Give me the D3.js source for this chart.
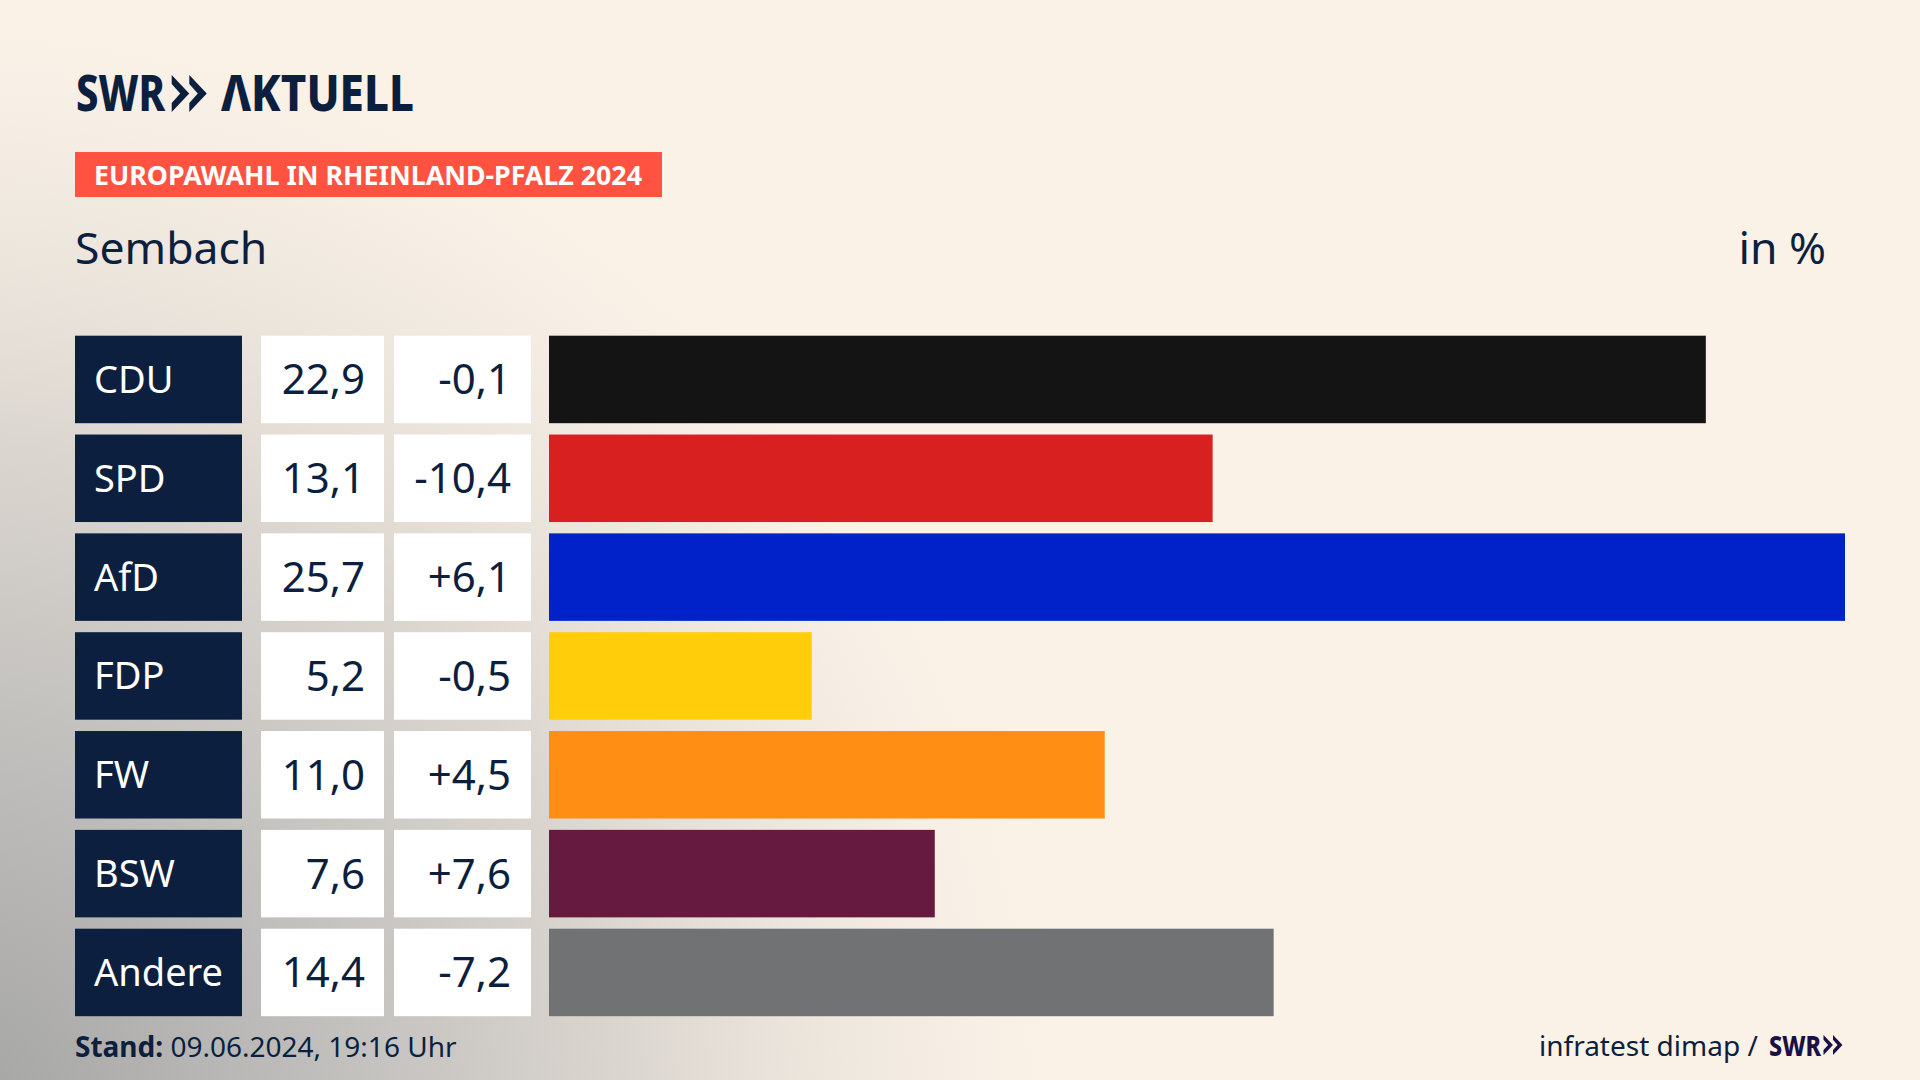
<!DOCTYPE html>
<html>
<head>
<meta charset="utf-8">
<script src="https://cdn.jsdelivr.net/npm/d3@7"></script>
<style>
  html, body { margin: 0; padding: 0; width: 1920px; height: 1080px; overflow: hidden; background: #faf1e7; }
  svg { display: block; font-family: "Noto Sans", sans-serif; }
</style>
</head>
<body>
<div id="container"></div>
<script>
/* DATA */
const parties = ["CDU", "SPD", "AfD", "FDP", "FW", "BSW", "Andere"];
const shares = [22.9, 13.1, 25.7, 5.2, 11.0, 7.6, 14.4];
const diffs = [-0.1, -10.4, 6.1, -0.5, 4.5, 7.6, -7.2];
// bar lengths, the labels above are rounded
const barValues = [22.94, 13.16, 25.7, 5.21, 11.02, 7.65, 14.37];
const partyColors = ["#141414", "#d7201f", "#0022c8", "#ffcd0a", "#ff8f14", "#661a3f", "#717274"];

const navy = "#0c1f3f";
const width = 1920, height = 1080;

const deFormat = v => v.toFixed(1).replace(".", ",");
const signed = v => (v > 0 ? "+" : "") + deFormat(v);

const svg = d3.select("#container").append("svg")
  .attr("width", width)
  .attr("height", height);

// background: warm beige, grey coming in from the bottom left corner
const defs = svg.append("defs");
const glow = defs.append("radialGradient")
  .attr("id", "glow")
  .attr("gradientUnits", "userSpaceOnUse")
  .attr("cx", -60).attr("cy", 1130).attr("r", 1150);
glow.selectAll("stop")
  .data([[0, "#a2a2a2", 1], [0.3, "#bcbbb9", 1], [0.6, "#d9d4ce", 0.95], [0.85, "#efe8df", 0.6], [1, "#faf1e7", 0]])
  .join("stop")
  .attr("offset", d => d[0])
  .attr("stop-color", d => d[1])
  .attr("stop-opacity", d => d[2]);

svg.append("rect").attr("width", width).attr("height", height).attr("fill", "#faf1e7");
svg.append("rect").attr("width", width).attr("height", height).attr("fill", "url(#glow)");

// scales
const y = d3.scaleBand().domain(parties).range([335.7, 1016.2]).paddingInner(0.1147).paddingOuter(0);
const x = d3.scaleLinear().domain([0, 25.7]).range([549, 1845]);

// logo arrows
function chevrons(g, x0, y0, s, color) {
  const one = "M0 0 L17.5 18.5 L0 37 L0 28 L8.5 18.5 L0 9 Z";
  [0, 17.6].forEach(dx => {
    g.append("path")
      .attr("d", one)
      .attr("transform", `translate(${x0 + dx * s},${y0}) scale(${s})`)
      .attr("fill", color);
  });
}

svg.append("text").attr("x", 76).attr("y", 110.5)
  .attr("textLength", 89).attr("lengthAdjust", "spacingAndGlyphs")
  .attr("font-size", 49).attr("font-weight", 800).attr("fill", navy).text("SWR");
chevrons(svg, 171.7, 75, 1, navy);
svg.append("text").attr("x", 221).attr("y", 110.5)
  .attr("textLength", 193).attr("lengthAdjust", "spacingAndGlyphs")
  .attr("font-size", 49).attr("font-weight", 800).attr("fill", navy).text("ΛKTUELL");

// red tag
svg.append("rect").attr("x", 75).attr("y", 152).attr("width", 587).attr("height", 45).attr("fill", "#ff5240");
svg.append("text").attr("x", 94).attr("y", 184.5)
  .attr("textLength", 548).attr("lengthAdjust", "spacingAndGlyphs")
  .attr("font-size", 27.5).attr("font-weight", 700).attr("fill", "#fff")
  .text("EUROPAWAHL IN RHEINLAND-PFALZ 2024");

// titles
svg.append("text").attr("x", 75).attr("y", 264)
  .attr("font-size", 44.5).attr("fill", navy).text("Sembach");
svg.append("text").attr("x", 1826).attr("y", 264).attr("text-anchor", "end")
  .attr("font-size", 44.5).attr("fill", navy).text("in %");

// rows
const rows = svg.selectAll("g.row")
  .data(parties.map((p, i) => ({ party: p, share: shares[i], diff: diffs[i], bar: barValues[i], color: partyColors[i] })))
  .join("g")
  .attr("class", "row")
  .attr("transform", d => `translate(0,${y(d.party)})`);

const bh = y.bandwidth();

rows.append("rect").attr("x", 75).attr("width", 167).attr("height", bh).attr("fill", navy);
rows.append("rect").attr("x", 261).attr("width", 123).attr("height", bh).attr("fill", "#fff");
rows.append("rect").attr("x", 394).attr("width", 137).attr("height", bh).attr("fill", "#fff");
rows.append("rect").attr("x", x(0)).attr("width", d => x(d.bar) - x(0)).attr("height", bh).attr("fill", d => d.color);

rows.append("text").attr("x", 94).attr("y", bh / 2 + 13.5)
  .attr("font-size", 38).attr("fill", "#fff").text(d => d.party);
rows.append("text").attr("x", 365).attr("y", bh / 2 + 15).attr("text-anchor", "end")
  .attr("font-size", 42).attr("fill", navy).text(d => deFormat(d.share));
rows.append("text").attr("x", 511).attr("y", bh / 2 + 15).attr("text-anchor", "end")
  .attr("font-size", 42).attr("fill", navy).text(d => signed(d.diff));

// footer
const stand = svg.append("text").attr("x", 75).attr("y", 1057).attr("font-size", 28).attr("fill", navy);
stand.append("tspan").attr("font-weight", 700).text("Stand:");
stand.append("tspan").text(" 09.06.2024, 19:16 Uhr");

svg.append("text").attr("x", 1539).attr("y", 1056)
  .attr("font-size", 28).attr("fill", navy).text("infratest dimap /");
svg.append("text").attr("x", 1769).attr("y", 1055.5)
  .attr("textLength", 52).attr("lengthAdjust", "spacingAndGlyphs")
  .attr("font-size", 28).attr("font-weight", 800).attr("fill", "#1b0f45").text("SWR");
chevrons(svg, 1823.5, 1035, 0.54, "#1b0f45");
</script>
</body>
</html>
